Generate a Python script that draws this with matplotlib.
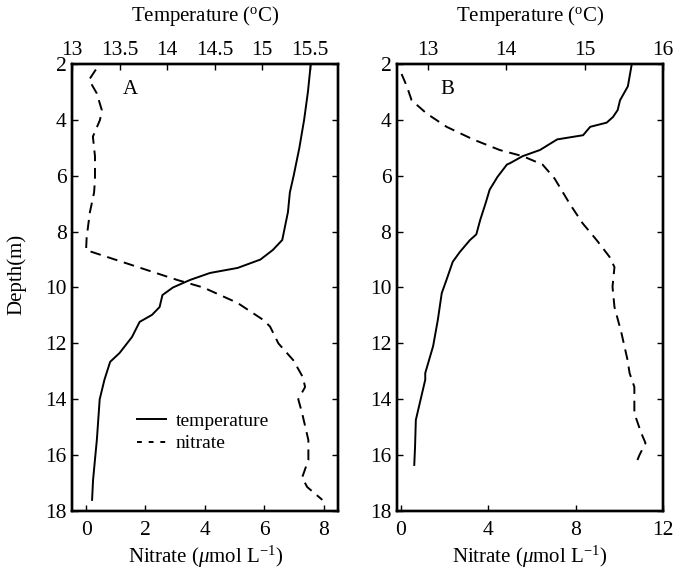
import numpy as np
import matplotlib.pyplot as plt

plt.rcParams['font.family'] = ['Liberation Serif', 'DejaVu Serif']
plt.rcParams['mathtext.fontset'] = 'custom'
plt.rcParams['mathtext.rm'] = 'Liberation Serif'
plt.rcParams['mathtext.it'] = 'Liberation Serif:italic'

# Panel A
depth_temp_a = [2.0, 3.0, 4.0, 5.0, 6.0, 6.6, 7.3, 8.3, 8.66, 9.0, 9.3, 9.48, 9.73, 10.0,
                10.27, 10.7, 10.98, 11.23, 11.77, 12.34, 12.66, 13.3, 14.0, 15.46, 16.17, 16.9, 17.6]
temp_a = [15.51, 15.48, 15.44, 15.39, 15.33, 15.29, 15.27, 15.21, 15.11, 14.98, 14.74, 14.45, 14.24, 14.06,
          13.95, 13.92, 13.84, 13.71, 13.63, 13.50, 13.40, 13.34, 13.29, 13.26, 13.24, 13.22, 13.21]
depth_nit_a = [2.2, 2.57, 3.05, 3.65, 4.0, 4.6, 5.3, 6.15, 6.6, 7.3, 8.2, 8.66, 9.73, 10.0, 10.55,
               11.16, 11.4, 12.0, 12.6, 13.2, 13.56, 14.0, 14.5, 15.46, 16.17, 16.8, 17.14, 17.6]
nit_a = [0.33, 0.10, 0.36, 0.53, 0.47, 0.23, 0.30, 0.30, 0.27, 0.13, 0.02, 0.0, 3.07, 3.95, 5.10,
         5.97, 6.20, 6.48, 6.98, 7.30, 7.38, 7.15, 7.28, 7.49, 7.49, 7.28, 7.45, 7.96]

# Panel B
depth_temp_b = [2.0, 2.8, 3.3, 3.65, 3.9, 4.1, 4.25, 4.55, 4.7, 5.08, 5.3, 5.55, 5.6, 6.04, 6.5,
                6.97, 7.58, 8.1, 8.3, 8.73, 9.08, 9.73, 10.2, 11.16, 12.1, 13.06, 13.3, 14.38, 14.74,
                15.7, 16.35]
temp_b = [15.60, 15.55, 15.45, 15.42, 15.36, 15.28, 15.07, 14.98, 14.65, 14.43, 14.21, 14.05, 14.01, 13.89,
          13.79, 13.74, 13.67, 13.62, 13.54, 13.41, 13.32, 13.24, 13.18, 13.13, 13.07, 12.97, 12.97,
          12.88, 12.85, 12.84, 12.83]
depth_nit_b = [2.36, 2.8, 3.3, 3.77, 4.25, 4.7, 5.08, 5.3, 5.6, 6.1, 7.0, 7.7, 8.3, 8.9, 9.27, 9.97,
               10.7, 11.6, 12.6, 13.06, 13.56, 14.5, 15.2, 15.57, 16.0, 16.35]
nit_b = [0.03, 0.27, 0.49, 1.17, 2.09, 3.30, 4.52, 5.57, 6.48, 7.03, 7.72, 8.31, 8.95, 9.54, 9.77, 9.68,
         9.77, 10.08, 10.37, 10.46, 10.68, 10.68, 10.99, 11.19, 10.91, 10.73]

depth_ticks = [2, 4, 6, 8, 10, 12, 14, 16, 18]
temp_ticks_a = [13, 13.5, 14, 14.5, 15, 15.5]
temp_ticks_b = [13, 14, 15, 16]
nit_ticks_a = [0, 2, 4, 6, 8]
nit_ticks_b = [0, 4, 8, 12]

dash = (0, (5.5, 3.5))
fs_tick = 15.5
fs_lab = 15

fig = plt.figure(figsize=(6.74, 5.71), dpi=100)


def panel(rect, d_t, t, d_n, n, tlim, tticks, nlim, nticks, letter, lx):
    ax = fig.add_axes(rect)
    ax.plot(n, d_n, color='k', lw=1.4, ls=dash, label='nitrate')
    ax.set_xlim(*nlim)
    ax.set_xticks(nticks)
    ax.set_ylim(18, 2)
    ax.set_yticks(depth_ticks)
    ax.set_xlabel('Nitrate ($\\mu$mol L$^{\\mathrm{-1}}$)', fontsize=fs_lab, labelpad=3)
    ax.tick_params(direction='in', length=4, width=1, labelsize=fs_tick, right=True)
    ax.tick_params(axis='x', pad=7)
    ax.tick_params(axis='y', pad=4)
    ax2 = ax.twiny()
    ax2.plot(t, d_t, color='k', lw=1.4, label='temperature')
    ax2.set_xlim(*tlim)
    ax2.set_xticks(tticks)
    ax2.set_xticklabels([('%g' % v) for v in tticks])
    ax2.set_xlabel('Temperature ($^{\\mathrm{o}}$C)', fontsize=fs_lab, labelpad=14)
    ax2.tick_params(direction='in', length=4, width=1, labelsize=fs_tick, pad=3)
    for a in (ax, ax2):
        for s in a.spines.values():
            s.set_linewidth(1.7)
    ax.text(lx, 0.942, letter, transform=ax.transAxes, fontsize=15, ha='center', va='center')
    return ax, ax2


axA, axA2 = panel([0.107, 0.105, 0.395, 0.783], depth_temp_a, temp_a, depth_nit_a, nit_a,
                  (13, 15.8), temp_ticks_a, (-0.47, 8.5), nit_ticks_a, 'A', 0.218)
axB, axB2 = panel([0.589, 0.105, 0.395, 0.783], depth_temp_b, temp_b, depth_nit_b, nit_b,
                  (12.61, 16.0), temp_ticks_b, (-0.18, 12.0), nit_ticks_b, 'B', 0.19)

axA.set_ylabel('Depth(m)', fontsize=fs_lab)
axA.yaxis.set_label_coords(-0.17, 0.53)

h1, l1 = axA2.get_legend_handles_labels()
h2, l2 = axA.get_legend_handles_labels()
leg = axA.legend(h1 + h2, l1 + l2, loc='center left', bbox_to_anchor=(0.177, 0.176), frameon=False,
                 fontsize=14, handlelength=1.5, handletextpad=0.5, labelspacing=0.25)
leg.get_lines()[1].set_linestyle((0, (2.5, 3.5)))

fig.savefig('out.png', dpi=100)
